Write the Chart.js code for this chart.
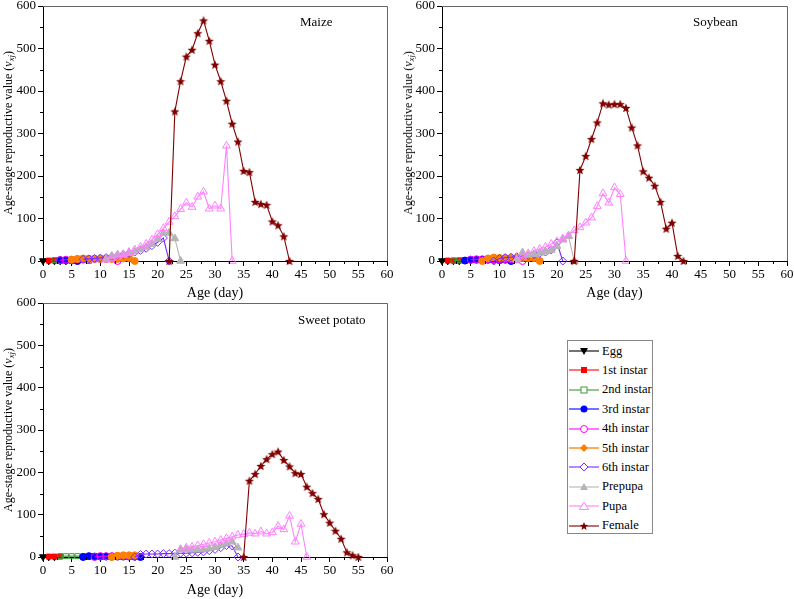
<!DOCTYPE html>
<html><head><meta charset="utf-8">
<script src="https://cdn.jsdelivr.net/npm/chart.js@4/dist/chart.umd.min.js"></script>
<style>
html,body{margin:0;padding:0;background:#fff;}
#wrap{position:relative;width:794px;height:599px;overflow:hidden;font-family:"Liberation Serif","Times New Roman",serif;color:#000;}
canvas{position:absolute;}
.ytitle{position:absolute;white-space:nowrap;font-size:12px;line-height:1;transform:translate(-50%,-50%) rotate(-90deg);}
.ytitle sub{font-size:0.72em;vertical-align:-0.25em;line-height:0;}
.plabel{position:absolute;font-size:13px;line-height:1;white-space:nowrap;}
#legend{position:absolute;left:567px;top:340px;width:86px;height:194px;border:1px solid #888;box-sizing:border-box;}
.li{position:absolute;left:1px;height:14px;display:flex;align-items:center;font-size:12.5px;white-space:nowrap;}
.li svg{margin-right:3px;}
</style>
</head><body>
<div id="wrap">
  <canvas id="c1" width="400" height="302" style="left:0;top:0;width:400px;height:302px"></canvas>
  <canvas id="c2" width="394" height="302" style="left:400px;top:0;width:394px;height:302px"></canvas>
  <canvas id="c3" width="400" height="302" style="left:0;top:297px;width:400px;height:302px"></canvas>
  <div class="ytitle" style="left:8px;top:133px">Age-stage reproductive value (<i>v</i><sub><i>xj</i></sub>)</div>
  <div class="ytitle" style="left:408px;top:133px">Age-stage reproductive value (<i>v</i><sub><i>xj</i></sub>)</div>
  <div class="ytitle" style="left:8px;top:430px">Age-stage reproductive value (<i>v</i><sub><i>xj</i></sub>)</div>
  <div class="plabel" style="left:300px;top:15px">Maize</div>
  <div class="plabel" style="left:693px;top:15px">Soybean</div>
  <div class="plabel" style="left:298px;top:313px">Sweet potato</div>
  <div id="legend"></div>
</div>
<script>
// ---------- DATA ----------
const stageNames = ['Egg','1st instar','2nd instar','3rd instar','4th instar','5th instar','6th instar','Prepupa','Pupa','Female'];
const xTicks = [0,5,10,15,20,25,30,35,40,45,50,55,60];
const yTicks = [0,100,200,300,400,500,600];

// Maize: first age (day) of each stage, then values by consecutive day
const maizeStart = [0,1,2,3,3,5,7,11,11,22];
const maizeEgg = [0.5,0.5,0.5,0.5,0.5,0.5];
const maize1st = [1,1,1,1,1,1];
const maize2nd = [2,2,2,2,2,2,0];
const maize3rd = [2,2,2,0];
const maize4th = [2,3,3,4,4,5,5,5,5,6,0];
const maize5th = [3,5,6,5,5,5,5,5,5,6,7,0];
const maize6th = [4,5,6,7,8,10,12,15,18,21,25,30,36,44,54,0];
const maizePrepupa = [4,12,15,14,18,22,27,33,40,52,66,66,53,0];
const maizePupa = [3,6,10,16,21,27,33,40,50,63,77,92,105,122,137,127,151,163,123,130,123,271,0];
const maizeFemale = [0,352,423,481,497,536,566,518,462,423,377,323,281,212,209,139,134,132,93,84,58,0];

// Soybean
const soyStart = [0,1,2,4,5,7,9,13,13,23];
const soyEgg = [0.5,0.5,0.5,0.5];
const soy1st = [1,1,1,1];
const soy2nd = [1,2,2,2,2,2,2,2,0];
const soy3rd = [1,3,3,3,3,3,3,3,0];
const soy4th = [3,4,4,4,4,4,4,4,4,0];
const soy5th = [0,6,8,7,7,7,7,7,7,7,0];
const soy6th = [0,6,8,9,10,11,13,15,18,21,26,43,0];
const soyPrepupa = [3,20,14,16,19,22,26,35,50,58,0];
const soyPupa = [3,10,18,23,28,33,40,46,53,60,72,79,90,102,129,159,137,173,157,0];
const soyFemale = [0,214,247,287,326,371,368,369,369,360,314,272,211,196,177,139,76,90,12,0];

// Sweet potato
const spStart = [0,1,3,7,9,12,16,23,24,35];
const spEgg = [0.5,0.5,0.5];
const sp1st = [1,1,1];
const sp2nd = [2,2,2,2,2,2,2,2,2,2,2,0];
const sp3rd = [0,2,1,1,1,1,1,1,1,1,0];
const sp4th = [0,2,2,2,2,2,2,2];
const sp5th = [0,3,4,4,4];
const sp6th = [0,6,7,7,7,8,8,9,9,9,10,11,12,15,18,22,27,26,0];
const spPrepupa = [0,18,18,17,17,18,20,23,28,32,36,22];
const spPupa = [18,22,24,27,30,33,36,40,44,48,52,54,57,55,60,55,58,73,65,97,36,78,0];
const spFemale = [0,180,196,215,231,243,249,229,214,198,196,166,151,137,101,81,62,43,11,4,0];

// ---------- STYLE ----------
function makeStar(color, size){
  const c=document.createElement('canvas'); c.width=c.height=size;
  const g=c.getContext('2d'); g.fillStyle=color;
  const cx=size/2, cy=size/2+0.4, R=size/2-0.2, r=R*0.45;
  g.beginPath();
  for(let k=0;k<10;k++){const a=-Math.PI/2+k*Math.PI/5; const rr=k%2?r:R; g.lineTo(cx+rr*Math.cos(a), cy+rr*Math.sin(a));}
  g.closePath(); g.fill();
  return c;
}
const starImg = makeStar('#800000', 10);
const styles = [
  {color:'#000000', ps:'triangle', rot:180, fill:true, r:4},
  {color:'#ff0000', ps:'rect', fill:true, r:3.5},
  {color:'#3a9a3a', ps:'rect', fill:false, r:3.5},
  {color:'#0000ff', ps:'circle', fill:true, r:3.5},
  {color:'#ff00ff', ps:'circle', fill:false, r:3.5},
  {color:'#ff8000', line:'#ffa050', ps:'circle', fill:true, r:3.5, lw:1.8},
  {color:'#7a2bff', ps:'rectRot', fill:false, r:4},
  {color:'#b4b4b4', ps:'triangle', fill:true, r:4.5},
  {color:'#ff80ff', ps:'triangle', fill:false, r:4.5},
  {color:'#800000', ps:starImg, fill:true, r:5},
];

function buildDatasets(starts, series){
  return series.map((vals,i)=>{
    const st = styles[i];
    return {
      label: stageNames[i],
      data: vals.map((v,k)=>({x: starts[i]+k, y: v})),
      borderColor: st.line || st.color,
      borderWidth: st.lw || 1.1,
      pointStyle: st.ps,
      rotation: st.rot || 0,
      pointRadius: st.r,
      pointBorderColor: st.color,
      pointBackgroundColor: st.fill ? st.color : 'rgba(255,255,255,0)',
      pointBorderWidth: 1,
      tension: 0,
      clip: false,
      order: 20 - i
    };
  });
}

const framePlugin = {
  id:'frame',
  afterDraw(chart){
    const {ctx, chartArea:a, scales:{x,y}} = chart;
    ctx.save();
    ctx.lineWidth=1;
    ctx.strokeStyle='#666';
    ctx.beginPath();
    ctx.moveTo(a.left, Math.round(a.top)+0.5);
    ctx.lineTo(Math.round(a.right)+0.5, Math.round(a.top)+0.5);
    ctx.lineTo(Math.round(a.right)+0.5, a.bottom);
    ctx.stroke();
    ctx.strokeStyle='#000';
    ctx.beginPath();
    for(let v=2.5; v<60; v+=5){const px=Math.round(x.getPixelForValue(v))+0.5; ctx.moveTo(px,a.bottom); ctx.lineTo(px,a.bottom+3);}
    for(let v=50; v<600; v+=100){const py=Math.round(y.getPixelForValue(v))+0.5; ctx.moveTo(a.left,py); ctx.lineTo(a.left-3,py);}
    ctx.stroke();
    ctx.restore();
  }
};

function makeChart(id, starts, series, yWidth, xHeight, padRight){
  const fam = '"Liberation Serif", "Times New Roman", serif';
  const tickFont = {family:fam, size:13, weight:'normal'};
  return new Chart(document.getElementById(id), {
    type:'line',
    data:{datasets: buildDatasets(starts, series)},
    options:{
      responsive:false, animation:false, maintainAspectRatio:false,
      layout:{padding:{top:6, right:padRight, left:0, bottom:0}},
      plugins:{legend:{display:false}, tooltip:{enabled:false}},
      scales:{
        x:{type:'linear', min:0, max:60,
          afterBuildTicks(s){ s.ticks = xTicks.map(v=>({value:v})); },
          ticks:{font:tickFont, color:'#000', padding:1, maxRotation:0, autoSkip:false},
          grid:{display:true, drawOnChartArea:false, drawTicks:true, tickLength:5, color:'#000'},
          border:{display:true, color:'#000', width:1},
          title:{display:true, text:'Age (day)', color:'#000', font:{family:fam, size:14, weight:'normal'}, padding:{top:0,bottom:0}},
          afterFit(s){ s.height = xHeight; s.paddingLeft=0; s.paddingRight=0; }
        },
        y:{type:'linear', min:0, max:600,
          afterBuildTicks(s){ s.ticks = yTicks.map(v=>({value:v})); },
          ticks:{font:tickFont, color:'#000', padding:2},
          grid:{display:true, drawOnChartArea:false, drawTicks:true, tickLength:5, color:'#000'},
          border:{display:true, color:'#000', width:1},
          afterFit(s){ s.width = yWidth; s.paddingTop=0; s.paddingBottom=0; }
        }
      }
    },
    plugins:[framePlugin]
  });
}

makeChart('c1', maizeStart, [maizeEgg,maize1st,maize2nd,maize3rd,maize4th,maize5th,maize6th,maizePrepupa,maizePupa,maizeFemale], 43, 41, 13);
makeChart('c2', soyStart, [soyEgg,soy1st,soy2nd,soy3rd,soy4th,soy5th,soy6th,soyPrepupa,soyPupa,soyFemale], 42, 41, 7);
makeChart('c3', spStart, [spEgg,sp1st,sp2nd,sp3rd,sp4th,sp5th,sp6th,spPrepupa,spPupa,spFemale], 43, 42, 13);

// ---------- LEGEND ----------
function markerSvg(i){
  const st=styles[i]; const c=st.color;
  let m='';
  if(i===0) m=`<polygon points="11,3 19,3 15,10" fill="${c}"/>`;
  else if(i===1) m=`<rect x="12" y="3" width="6" height="6" fill="${c}"/>`;
  else if(i===2) m=`<rect x="12" y="3" width="6" height="6" fill="#fff" stroke="${c}"/>`;
  else if(i===3) m=`<circle cx="15" cy="6" r="3.5" fill="${c}"/>`;
  else if(i===4) m=`<circle cx="15" cy="6" r="3.5" fill="#fff" stroke="${c}"/>`;
  else if(i===5) m=`<polygon points="15,2 19,6 15,10 11,6" fill="${c}"/>`;
  else if(i===6) m=`<polygon points="15,2 19,6 15,10 11,6" fill="#fff" stroke="${c}"/>`;
  else if(i===7) m=`<polygon points="15,2 19,9 11,9" fill="${c}"/>`;
  else if(i===8) m=`<polygon points="15,2 19.5,9.5 10.5,9.5" fill="#fff" stroke="${c}"/>`;
  else { let p=[]; for(let k=0;k<10;k++){const a=-Math.PI/2+k*Math.PI/5; const rr=k%2?1.9:4.3; p.push((15+rr*Math.cos(a)).toFixed(2)+','+(6.4+rr*Math.sin(a)).toFixed(2));} m=`<polygon points="${p.join(' ')}" fill="${c}"/>`; }
  const lw = st.lw || 1.1;
  return `<svg width="30" height="12" viewBox="0 0 30 12"><line x1="0" y1="6" x2="30" y2="6" stroke="${st.line||c}" stroke-width="${lw}"/>${m}</svg>`;
}
const leg=document.getElementById('legend');
stageNames.forEach((n,i)=>{
  const d=document.createElement('div'); d.className='li';
  d.style.top=(10+i*19.4-7)+'px';
  d.innerHTML=markerSvg(i)+'<span>'+n+'</span>';
  leg.appendChild(d);
});
</script>
</body></html>
